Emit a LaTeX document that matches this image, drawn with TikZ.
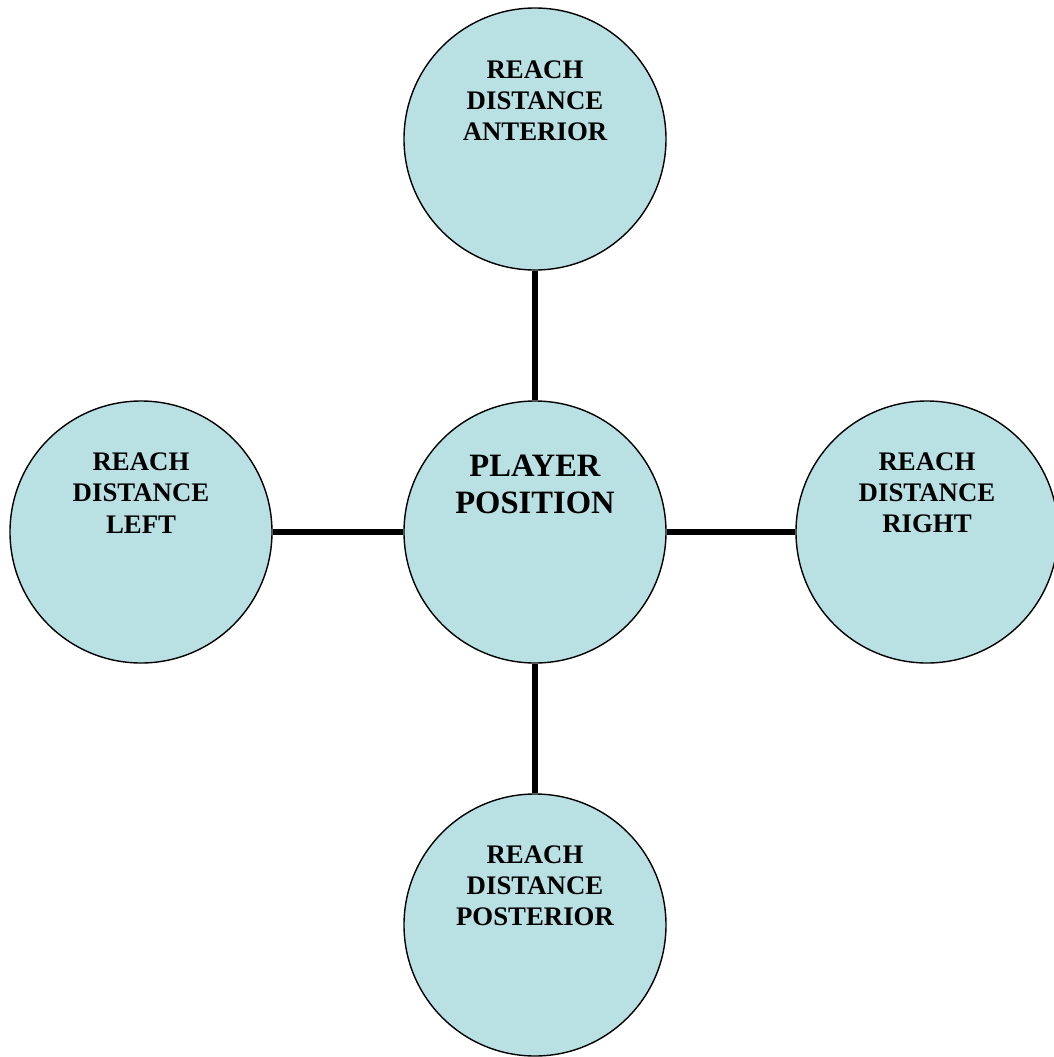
\documentclass[tikz,border=0pt]{standalone}
\usepackage{fontspec}
\setmainfont{Liberation Serif}
\usepackage{xcolor}
\usepackage{tikz}
\usetikzlibrary{positioning}
\definecolor{reachblue}{RGB}{185,224,227}
\tikzset{
  reachcircle/.style={circle, fill=reachblue, draw=black, line width=0.7pt,
    minimum size=131pt, inner sep=0pt},
  reachtext/.style={align=center, font=\fontsize{13.4}{15.6}\selectfont\bfseries},
  playertext/.style={align=center, font=\fontsize{16.3}{18.5}\selectfont\bfseries},
  spoke/.style={line width=2.7pt}
}

\begin{document}
\begin{tikzpicture}[x=0.5pt, y=-0.5pt]
  \clip (0,0) rectangle (1054,1057);
  \fill[white] (0,0) rectangle (1054,1057);
  % circles
  \node[reachcircle] (player)    at (535,532) {};
  \node[reachcircle] (anterior)  at (535,139) {};
  \node[reachcircle] (left)      at (141,532) {};
  \node[reachcircle] (right)     at (927,532) {};
  \node[reachcircle] (posterior) at (535,925) {};
  % spokes
  \draw[spoke] (player) -- (anterior);
  \draw[spoke] (player) -- (left);
  \draw[spoke] (player) -- (right);
  \draw[spoke] (player) -- (posterior);
  % labels
  \node[playertext] (playerlbl) at ([yshift=24pt]player.center) {PLAYER\\POSITION};
  \node[reachtext] (anteriorlbl) at ([yshift=19pt]anterior.center) {REACH\\DISTANCE\\ANTERIOR};
  \node[reachtext] (leftlbl) at ([yshift=19.5pt]left.center) {REACH\\DISTANCE\\LEFT};
  \node[reachtext] (rightlbl) at ([yshift=19.5pt]right.center) {REACH\\DISTANCE\\RIGHT};
  \node[reachtext] (posteriorlbl) at ([yshift=19.5pt]posterior.center) {REACH\\DISTANCE\\POSTERIOR};
\end{tikzpicture}
\end{document}
